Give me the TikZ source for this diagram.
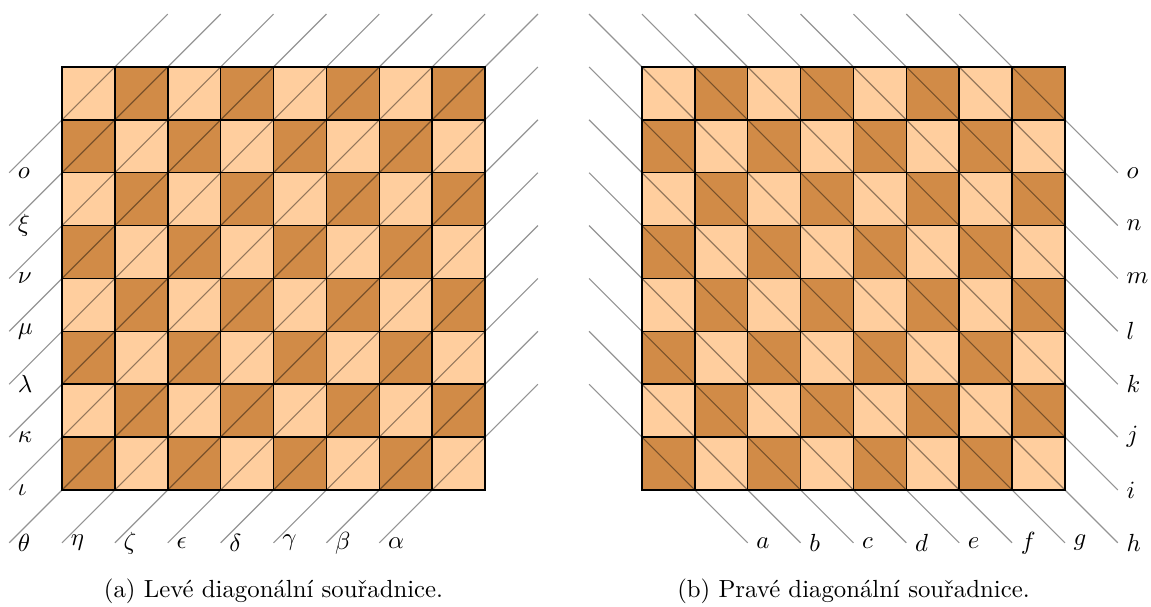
\documentclass[tikz,border=0pt]{standalone}
\usepackage{fontspec}
\begin{document}
\begin{tikzpicture}[x=0.75cm,y=0.75cm,
  sqbox/.style={draw=black, line width=0.6pt},
  diagline/.style={draw=black, opacity=0.42, line width=0.45pt},
  lbl/.style={anchor=west},
  capt/.style={anchor=base, font=\normalsize}]
\definecolor{lightsq}{HTML}{FFCE9E}
\definecolor{darksq}{HTML}{D18B47}
\useasboundingbox (-1.173,-2.213) rectangle (20.596,9.267);

% ---------- left board ----------
\begin{scope}
  \foreach \i in {0,...,7}{
    \foreach \j in {0,...,7}{
      \pgfmathtruncatemacro\parity{mod(\i+\j,2)}
      \ifnum\parity=0 \def\sqcol{darksq}\else\def\sqcol{lightsq}\fi
      \filldraw[sqbox, fill=\sqcol] (\i,\j) rectangle ++(1,1);
    }
  }
  % diagonals ending at the bottom
  \foreach \x/\l [count=\n] in {-1/\theta, 0/\eta, 1/\zeta, 2/\epsilon, 3/\delta, 4/\gamma, 5/\beta, 6/\alpha}{
    \pgfmathsetmacro\ye{8-\x}
    \coordinate (LB\n) at (\x,-1);
    \coordinate (LT\n) at (9,\ye);
    \draw[diagline] (LB\n) -- (LT\n);
    \node[lbl] (lb\n) at (LB\n) {$\l$};
  }
  % diagonals ending on the left
  \foreach \y/\l [count=\n] in {0/\iota, 1/\kappa, 2/\lambda, 3/\mu, 4/\nu, 5/\xi, 6/o}{
    \pgfmathsetmacro\xe{8-\y}
    \coordinate (LL\n) at (-1,\y);
    \coordinate (LU\n) at (\xe,9);
    \draw[diagline] (LL\n) -- (LU\n);
    \node[lbl] (ll\n) at (LL\n) {$\l$};
  }
  \node[capt] (capa) at (4,-2.043) {(a) Levé diagonální souřadnice.};
\end{scope}

% ---------- right board ----------
\begin{scope}[shift={(10.969,0)}]
  \foreach \i in {0,...,7}{
    \foreach \j in {0,...,7}{
      \pgfmathtruncatemacro\parity{mod(\i+\j,2)}
      \ifnum\parity=0 \def\sqcol{darksq}\else\def\sqcol{lightsq}\fi
      \filldraw[sqbox, fill=\sqcol] (\i,\j) rectangle ++(1,1);
    }
  }
  % diagonals ending at the bottom
  \foreach \x/\l [count=\n] in {2/a, 3/b, 4/c, 5/d, 6/e, 7/f, 8/g, 9/h}{
    \pgfmathsetmacro\ys{\x}
    \coordinate (RB\n) at (\x,-1);
    \coordinate (RT\n) at (-1,\ys);
    \draw[diagline] (RT\n) -- (RB\n);
    \node[lbl] (rb\n) at (RB\n) {$\l$};
  }
  % diagonals ending on the right
  \foreach \k/\l [count=\n] in {0/i, 1/j, 2/k, 3/l, 4/m, 5/n, 6/o}{
    \coordinate (RR\n) at (9,\k);
    \coordinate (RU\n) at (\k,9);
    \draw[diagline] (RU\n) -- (RR\n);
    \node[lbl] (rr\n) at (RR\n) {$\l$};
  }
  \node[capt] (capb) at (4,-2.043) {(b) Pravé diagonální souřadnice.};
\end{scope}
\end{tikzpicture}
\end{document}
